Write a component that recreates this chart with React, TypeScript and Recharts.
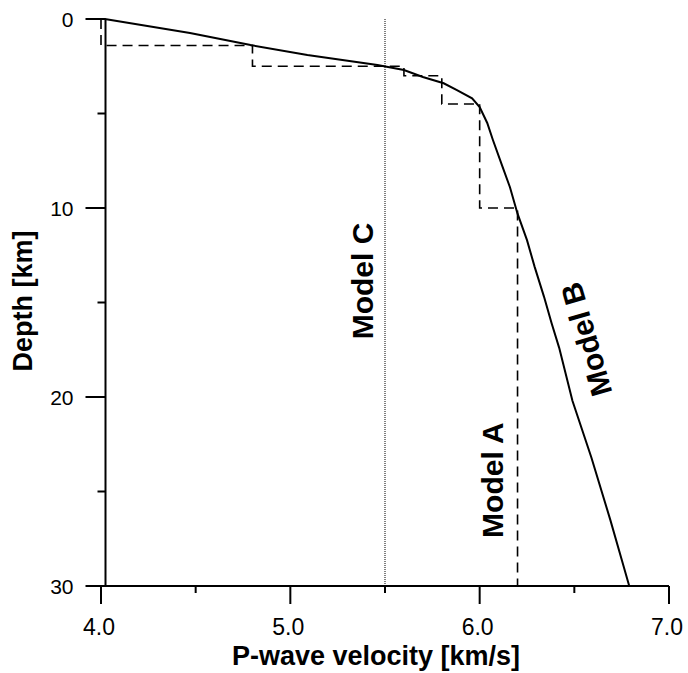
import React from 'react';
import { LineChart, Line, XAxis, YAxis, ReferenceLine, ReferenceDot } from 'recharts';

// Model A: layered (step) velocity model, velocity [km/s] vs depth [km]
const MODEL_A_V = [4.0, 4.0, 4.8, 4.8, 5.6, 5.6, 5.8, 5.8, 6.0, 6.0, 6.2, 6.2];
const MODEL_A_D = [0, 1.4, 1.4, 2.5, 2.5, 3.0, 3.0, 4.5, 4.5, 10, 10, 30];

// Model B: gradient model
const MODEL_B_V = [4.02, 4.47, 4.79, 5.09, 5.46, 5.6, 5.7, 5.81, 5.88, 5.96, 6.0, 6.04, 6.07, 6.12, 6.16, 6.2, 6.25, 6.29, 6.34, 6.38, 6.42, 6.49, 6.59, 6.69, 6.75, 6.79];
const MODEL_B_D = [0, 0.74, 1.38, 1.9, 2.43, 2.7, 3.07, 3.4, 3.76, 4.2, 4.66, 5.5, 6.4, 7.8, 8.9, 10.3, 11.7, 13.1, 14.7, 16.1, 17.4, 20.2, 23.2, 26.5, 28.6, 30];

// Model C: homogeneous half-space
const MODEL_C_V = [5.5, 5.5];
const MODEL_C_D = [0, 30];

const X_TICKS = [4.0, 4.5, 5.0, 5.5, 6.0, 6.5, 7.0];
const Y_TICKS = [0, 5, 10, 15, 20, 25, 30];

const LABELS = [
  { text: 'Model A', v: 6.068, d: 24.4, angle: -90 },
  { text: 'Model B', v: 6.562, d: 16.95, angle: -106 },
  { text: 'Model C', v: 5.379, d: 13.86, angle: -90 },
];

const zip = (vs: number[], ds: number[]) => vs.map((v, i) => ({ v, d: ds[i] }));
const modelA = zip(MODEL_A_V, MODEL_A_D);
const modelB = zip(MODEL_B_V, MODEL_B_D);
const modelC = zip(MODEL_C_V, MODEL_C_D);

const FONT = '"Liberation Sans", Arial, sans-serif';
const Y_AXIS_SHIFT = 4.5; // the drawn y axis sits a little right of 4.0

const XTick = (props: any) => {
  const { x, y, payload } = props;
  const major = Math.abs(payload.value - Math.round(payload.value)) < 1e-6;
  return (
    <g>
      <line x1={x} x2={x} y1={y} y2={y + (major ? 18 : 7)} stroke="#000" strokeWidth={2} />
      {major && (
        <text x={x - 2} y={y + 49} textAnchor="middle" fontSize={23} fontFamily={FONT} fill="#000">
          {payload.value.toFixed(1)}
        </text>
      )}
    </g>
  );
};

const YTick = (props: any) => {
  const { x, y, payload } = props;
  const ax = x + Y_AXIS_SHIFT;
  const major = payload.value % 10 === 0;
  return (
    <g>
      <line x1={ax - (major ? 20 : 8)} x2={ax} y1={y} y2={y} stroke="#000" strokeWidth={2} />
      {major && (
        <text x={ax - 32} y={y + 8} textAnchor="end" fontSize={21} fontFamily={FONT} fill="#000">
          {payload.value}
        </text>
      )}
    </g>
  );
};

const XTitle = () => (
  <text x={376} y={665} textAnchor="middle" fontSize={27} fontWeight="bold" fontFamily={FONT} fill="#000">
    P-wave velocity [km/s]
  </text>
);

const YTitle = () => (
  <text x={32} y={301} transform="rotate(-90, 32, 301)" textAnchor="middle" fontSize={27} fontWeight="bold" fontFamily={FONT} fill="#000">
    Depth [km]
  </text>
);

export default function App() {
  return (
    <div style={{ position: 'absolute', left: 0, top: 0, background: '#fff' }}>
      <LineChart width={688} height={673} margin={{ top: 19, right: 19, left: 0, bottom: 0 }}>
        <XAxis
          type="number"
          dataKey="v"
          domain={[4, 7]}
          ticks={X_TICKS}
          height={87}
          tickSize={0}
          tickMargin={0}
          tickLine={false}
          tick={<XTick />}
          axisLine={{ stroke: '#000', strokeWidth: 2 }}
          label={{ content: () => <XTitle /> }}
        />
        <XAxis
          xAxisId="top"
          orientation="top"
          type="number"
          domain={[4, 7]}
          height={0}
          tick={false}
          tickLine={false}
          axisLine={{ stroke: '#000', strokeWidth: 3 }}
        />
        <YAxis
          type="number"
          dataKey="d"
          domain={[0, 30]}
          reversed
          ticks={Y_TICKS}
          width={101}
          tickSize={0}
          tickMargin={0}
          tickLine={false}
          axisLine={false}
          tick={<YTick />}
          label={{ content: () => <YTitle /> }}
        />
        <YAxis
          yAxisId="right"
          orientation="right"
          type="number"
          domain={[0, 30]}
          width={0}
          tick={false}
          tickLine={false}
          axisLine={{ stroke: '#000', strokeWidth: 2 }}
        />
        <ReferenceLine x={4 + Y_AXIS_SHIFT / 189.3} stroke="#000" strokeWidth={2} />
        <Line
          data={modelC}
          dataKey="d"
          type="linear"
          stroke="#000"
          strokeWidth={1}
          strokeDasharray="1 1"
          dot={false}
          isAnimationActive={false}
        />
        <Line
          data={modelA}
          dataKey="d"
          type="linear"
          stroke="#000"
          strokeWidth={1.6}
          strokeDasharray="10 6"
          dot={false}
          isAnimationActive={false}
        />
        <Line
          data={modelB}
          dataKey="d"
          type="linear"
          stroke="#000"
          strokeWidth={2}
          dot={false}
          isAnimationActive={false}
        />
        {LABELS.map((l) => (
          <ReferenceDot
            key={l.text}
            x={l.v}
            y={l.d}
            r={0}
            fill="none"
            stroke="none"
            label={{
              value: l.text,
              position: 'center',
              angle: l.angle,
              fontSize: 30,
              fontWeight: 'bold',
              fontFamily: FONT,
              fill: '#000',
            }}
          />
        ))}
      </LineChart>
    </div>
  );
}
